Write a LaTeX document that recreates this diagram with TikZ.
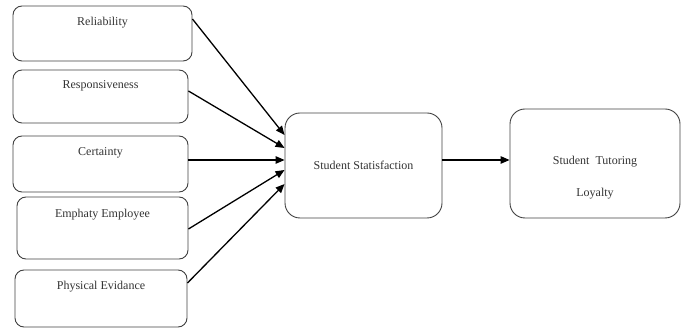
\documentclass[tikz,border=0pt]{standalone}
\usepackage{fontspec}
\setmainfont{Liberation Serif}
\usetikzlibrary{arrows.meta,calc}
\begin{document}
\begin{tikzpicture}[x=1pt,y=-1pt,
  factor/.style={draw=black!75,line width=0.9pt,rounded corners=9pt,inner sep=0pt},
  bigbox/.style={draw=black!75,line width=0.9pt,rounded corners=15pt,inner sep=0pt},
  txt/.style={font=\fontsize{12}{14}\selectfont,text=black!80,inner sep=0pt},
  conn/.style={line width=1.3pt,-{Triangle[length=9pt,width=7.5pt]}}]
\useasboundingbox (0,0) rectangle (688,328);
% left factor boxes
\node[factor,minimum width=179pt,minimum height=55pt] (b1) at (102.5,33.5) {};
\node[factor,minimum width=175pt,minimum height=53pt] (b2) at (100.5,96.5) {};
\node[factor,minimum width=175pt,minimum height=56pt] (b3) at (100.5,164) {};
\node[factor,minimum width=171pt,minimum height=62pt] (b4) at (102.5,228) {};
\node[factor,minimum width=172pt,minimum height=57pt] (b5) at (101,298.5) {};
\node[txt] (t1) at (102.5,23) {Reliability};
\node[txt] (t2) at (100.5,86) {Responsiveness};
\node[txt] (t3) at (100.5,153) {Certainty};
\node[txt] (t4) at (102.5,215) {Emphaty Employee};
\node[txt] (t5) at (101,287) {Physical Evidance};
% central boxes
\node[bigbox,minimum width=157pt,minimum height=105pt] (ss) at (363.5,165.5) {};
\node[txt] (tss) at (363.5,165) {Student Statisfaction};
\node[bigbox,minimum width=170pt,minimum height=109pt] (stl) at (595,163.5) {};
\node[txt] (tstl1) at (595,162) {Student\ \ Tutoring};
\node[txt] (tstl2) at (595,194) {Loyalty};
% connectors (yshift is in canvas units: positive = up)
\draw[conn] ([yshift=14.5pt]b1.east) -- ([yshift=30.5pt]ss.west);
\draw[conn] ([yshift=5.5pt]b2.east) -- ([yshift=17.5pt]ss.west);
\draw[conn] ([yshift=4pt]b3.east) -- ([yshift=5.5pt]ss.west);
\draw[conn] ([yshift=-1pt]b4.east) -- ([yshift=-4.5pt]ss.west);
\draw[conn] ([yshift=15.5pt]b5.east) -- ([yshift=-18.5pt]ss.west);
\draw[conn] ([yshift=5.5pt]ss.east) -- ([yshift=3.5pt]stl.west);
\end{tikzpicture}
\end{document}
